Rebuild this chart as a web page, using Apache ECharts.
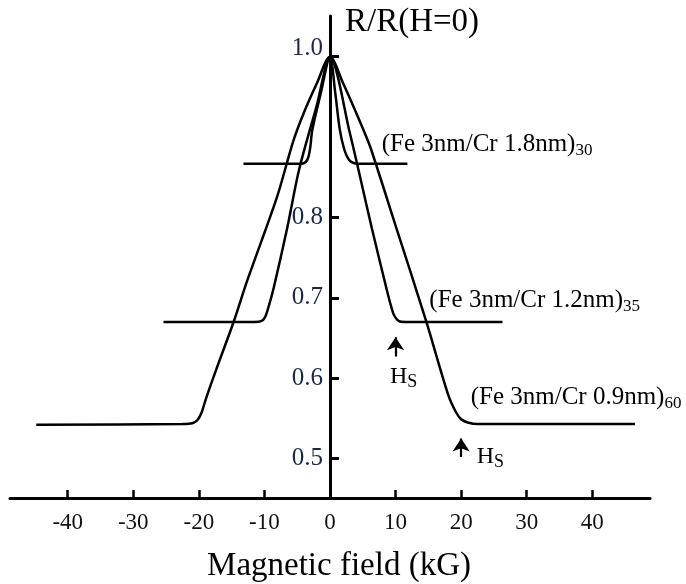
<!DOCTYPE html>
<html><head><meta charset="utf-8">
<script src="https://cdn.jsdelivr.net/npm/echarts@6/dist/echarts.min.js"></script>
<style>html,body{margin:0;padding:0;background:#fff}#c{width:686px;height:584px}</style>
</head><body><div id="c"></div>
<script>
// (Fe 3nm/Cr 1.8nm)30
const fieldA = [-13.2, -4.4, -3.7, -3.3, -3.0, -2.7, -1.4, 0, 0.8, 1.5, 2.2, 2.8, 3.3, 4.1, 11.8];
const ratioA = [0.867, 0.867, 0.869, 0.875, 0.888, 0.909, 0.955, 1.0, 0.955, 0.909, 0.884, 0.873, 0.869, 0.867, 0.867];
// (Fe 3nm/Cr 1.2nm)35
const fieldB = [-25.4, -11.5, -10.5, -9.9, -9.4, -8.6, -6.5, -4.7, -2.0, 0, 3.0, 6.4, 8.6, 9.3, 9.8, 10.5, 11.5, 26.3];
const ratioB = [0.670, 0.670, 0.671, 0.676, 0.688, 0.712, 0.788, 0.860, 0.940, 1.0, 0.906, 0.786, 0.712, 0.690, 0.678, 0.671, 0.670, 0.670];
// (Fe 3nm/Cr 0.9nm)60
const fieldC = [-44.8, -22.5, -21.0, -20.2, -19.6, -18.9, -17.3, -14.7, -12.6, -8.1, -5.6, -4.0, -2.0, 0, 2.0, 4.0, 5.3, 6.3, 10.0, 14.7, 18.0, 19.2, 20.0, 21.0, 22.5, 46.5];
const ratioC = [0.542, 0.543, 0.544, 0.548, 0.557, 0.575, 0.612, 0.670, 0.722, 0.825, 0.895, 0.930, 0.967, 1.0, 0.967, 0.930, 0.905, 0.884, 0.790, 0.670, 0.580, 0.558, 0.549, 0.545, 0.543, 0.543];

const xTicks = [-40, -30, -20, -10, 0, 10, 20, 30, 40];
const yTicks = [0.5, 0.6, 0.7, 0.8, 1.0];
const seriesNames = ['(Fe 3nm/Cr 1.8nm)30', '(Fe 3nm/Cr 1.2nm)35', '(Fe 3nm/Cr 0.9nm)60'];
// saturation field arrows: [H, R from, R to]
const hsArrows = [[10, 0.627, 0.651], [20, 0.502, 0.525]];

const FONT = '"Liberation Serif", "Times New Roman", serif';
const pairs = (xs, ys) => xs.map((x, i) => [x, ys[i]]);
const lineSeries = (name, xs, ys) => ({
  name, type: 'line', data: pairs(xs, ys), symbol: 'none',
  smooth: 0.3,
  lineStyle: { color: '#000', width: 2.5 }, emphasis: { disabled: true }, z: 3
});

const chart = echarts.init(document.getElementById('c'), null, { renderer: 'canvas' });
const subLabel = (main, sub) => `{m|${main}}{s|${sub}}`;
const richMain = (fs) => ({
  m: { fontSize: fs, fontFamily: FONT, lineHeight: 30, fill: '#000', color: '#000' },
  s: { fontSize: 17, fontFamily: FONT, lineHeight: 16, verticalAlign: 'bottom', fill: '#000', color: '#000' }
});
const hsRich = {
  m: { fontSize: 24, fontFamily: FONT, lineHeight: 28, fill: '#000' },
  s: { fontSize: 18, fontFamily: FONT, lineHeight: 17, verticalAlign: 'bottom', fill: '#000' }
};

chart.setOption({
  animation: false,
  grid: { left: 10, right: 36, top: 16, bottom: 86, containLabel: false, outerBoundsMode: 'none' },
  xAxis: {
    type: 'value', min: -48.8, max: 48.8,
    name: 'Magnetic field (kG)', nameLocation: 'middle', nameGap: 52,
    nameTextStyle: { fontFamily: FONT, fontSize: 33, color: '#000', padding: [0, 0, 0, 18] },
    axisLine: { onZero: false, lineStyle: { color: '#000', width: 3 } },
    axisTick: { customValues: xTicks, inside: true, length: 8, lineStyle: { color: '#000', width: 2.5 } },
    axisLabel: { customValues: xTicks, margin: 13, fontFamily: FONT, fontSize: 23, color: '#111' },
    splitLine: { show: false }
  },
  yAxis: {
    type: 'value', min: 0.451, max: 1.0507, offset: -320,
    axisLine: { onZero: false, lineStyle: { color: '#000', width: 3 } },
    axisTick: { customValues: yTicks, inside: true, length: 9, lineStyle: { color: '#000', width: 3 } },
    axisLabel: {
      customValues: yTicks, margin: 7, fontFamily: FONT, fontSize: 25, color: '#1e2746',
      formatter: v => Math.abs(v - 1) < 1e-9 ? '{t|1.0}' : v.toFixed(1),
      rich: { t: { fontFamily: FONT, fontSize: 25, color: '#1e2746', padding: [0, 0, 16, 0] } }
    },
    splitLine: { show: false }
  },
  series: [
    lineSeries(seriesNames[0], fieldA, ratioA),
    lineSeries(seriesNames[1], fieldB, ratioB),
    Object.assign(lineSeries(seriesNames[2], fieldC, ratioC), {
      markLine: {
        silent: true, symbol: ['none', 'arrow'], symbolSize: 13,
        label: { show: false },
        lineStyle: { color: '#000', width: 2.2, type: 'solid' },
        emphasis: { disabled: true },
        data: hsArrows.map(a => [{ coord: [a[0], a[1]] }, { coord: [a[0], a[2]] }])
      }
    })
  ],
  graphic: [
    { type: 'text', x: 345, y: 22, style: { text: 'R/R(H=0)', font: `33px ${FONT}`, fill: '#000', verticalAlign: 'middle' } },
    { type: 'text', x: 381.7, y: 144, style: { text: subLabel('(Fe 3nm/Cr 1.8nm)', '30'), rich: richMain(25), fill: '#000', verticalAlign: 'middle' } },
    { type: 'text', x: 429.3, y: 300, style: { text: subLabel('(Fe 3nm/Cr 1.2nm)', '35'), rich: richMain(25), fill: '#000', verticalAlign: 'middle' } },
    { type: 'text', x: 470.7, y: 397, style: { text: subLabel('(Fe 3nm/Cr 0.9nm)', '60'), rich: richMain(25), fill: '#000', verticalAlign: 'middle' } },
    { type: 'text', x: 390, y: 377, style: { text: '{m|H}{s|S}', rich: hsRich, fill: '#000', verticalAlign: 'middle' } },
    { type: 'text', x: 476.7, y: 457, style: { text: '{m|H}{s|S}', rich: hsRich, fill: '#000', verticalAlign: 'middle' } }
  ]
});
</script>
</body></html>
